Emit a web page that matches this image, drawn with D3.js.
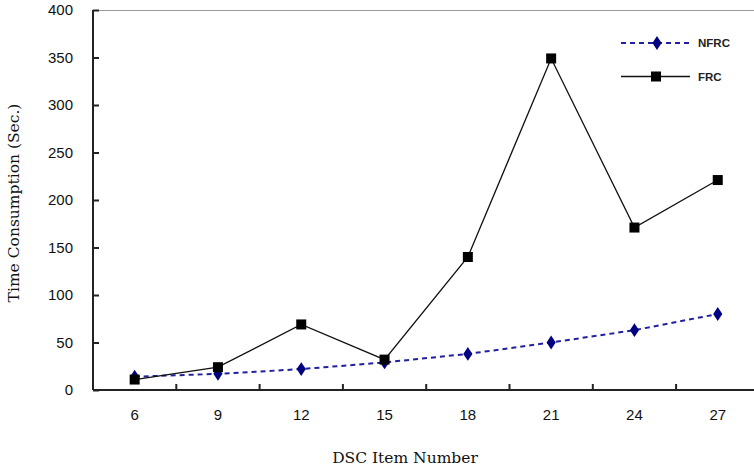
<!DOCTYPE html>
<html><head><meta charset="utf-8">
<script src="https://cdn.jsdelivr.net/npm/d3@7"></script>
<style>body{margin:0;background:#fff;} svg{display:block;}</style>
</head><body>
<svg id="c" width="754" height="469"></svg>
<script>
const categories = [6, 9, 12, 15, 18, 21, 24, 27];
const nfrc = [14, 17, 22, 29, 38, 50, 63, 80];
const frc = [11, 24, 69, 32, 140, 349, 171, 221];
const yTicks = [0, 50, 100, 150, 200, 250, 300, 350, 400];
const seriesNames = ["NFRC", "FRC"];

const svg = d3.select("#c");
const mLeft = 93, mTop = 10, mBottom = 390, mRight = 93 + 83.3 * 8;

const x = d3.scaleBand().domain(categories).range([mLeft, mRight]);
const y = d3.scaleLinear().domain([0, 400]).range([mBottom, mTop]);

// top border
svg.append("line").attr("x1", mLeft).attr("x2", mRight).attr("y1", mTop + 0.5).attr("y2", mTop + 0.5)
  .attr("stroke", "#999").attr("stroke-width", 1);

// y axis
const ya = svg.append("g").attr("transform", `translate(${mLeft},0)`)
  .call(d3.axisRight(y).tickValues(yTicks).tickSize(6).tickFormat(d3.format("d")));
ya.select(".domain").attr("stroke", "#222").attr("stroke-width", 2).attr("d", `M0,${mTop}V${mBottom}`);
ya.selectAll(".tick line").attr("stroke", "#222").attr("stroke-width", 2);
ya.selectAll(".tick text").attr("x", -20).attr("text-anchor", "end")
  .attr("font-family", "Liberation Sans, Arial, sans-serif").attr("font-size", 15).attr("fill", "#111");

// x axis
const xa = svg.append("g").attr("transform", `translate(0,${mBottom})`)
  .call(d3.axisTop(x).tickSize(0));
xa.select(".domain").attr("stroke", "#222").attr("stroke-width", 2).attr("d", `M${mLeft},0H${mRight}`);
xa.selectAll(".tick line").remove();
xa.selectAll(".tick text").attr("y", 30).attr("dy", "0")
  .attr("font-family", "Liberation Sans, Arial, sans-serif").attr("font-size", 15).attr("fill", "#111");
// boundary ticks between categories
const bounds = categories.slice(1).map(c => x(c));
svg.append("g").selectAll("line").data(bounds).join("line")
  .attr("x1", d => d).attr("x2", d => d).attr("y1", mBottom).attr("y2", mBottom - 6)
  .attr("stroke", "#222").attr("stroke-width", 2);

const cx = d => x(d) + x.bandwidth() / 2;
const line = d3.line().x(d => cx(d[0])).y(d => y(d[1]));

// NFRC
const nd = categories.map((c, i) => [c, nfrc[i]]);
svg.append("path").attr("d", line(nd)).attr("fill", "none").attr("stroke", "#2020a0")
  .attr("stroke-width", 2).attr("stroke-dasharray", "5,4");
const diamond = d3.symbol().type(d3.symbolDiamond).size(55);
svg.append("g").selectAll("path").data(nd).join("path")
  .attr("d", diamond).attr("transform", d => `translate(${cx(d[0])},${y(d[1])}) scale(1.15,1)`)
  .attr("fill", "#000080");

// FRC
const fd = categories.map((c, i) => [c, frc[i]]);
svg.append("path").attr("d", line(fd)).attr("fill", "none").attr("stroke", "#111").attr("stroke-width", 1.3);
svg.append("g").selectAll("rect").data(fd).join("rect")
  .attr("x", d => cx(d[0]) - 5).attr("y", d => y(d[1]) - 5).attr("width", 10).attr("height", 10)
  .attr("fill", "#000");

// legend
const lg = svg.append("g");
lg.append("line").attr("x1", 621).attr("x2", 690).attr("y1", 43).attr("y2", 43)
  .attr("stroke", "#2020a0").attr("stroke-width", 2).attr("stroke-dasharray", "5,4");
lg.append("path").attr("d", diamond).attr("transform", "translate(657,43) scale(1.15,1)").attr("fill", "#000080");
lg.append("text").attr("x", 698).attr("y", 47).text(seriesNames[0])
  .attr("font-family", "Liberation Sans, Arial, sans-serif").attr("font-size", 11.5).attr("font-weight", "bold").attr("fill", "#222");
lg.append("line").attr("x1", 621).attr("x2", 690).attr("y1", 76.5).attr("y2", 76.5)
  .attr("stroke", "#111").attr("stroke-width", 1.3);
lg.append("rect").attr("x", 651).attr("y", 71.5).attr("width", 10).attr("height", 10).attr("fill", "#000");
lg.append("text").attr("x", 698).attr("y", 81).text(seriesNames[1])
  .attr("font-family", "Liberation Sans, Arial, sans-serif").attr("font-size", 11.5).attr("font-weight", "bold").attr("fill", "#222");

// axis titles
svg.append("text").attr("transform", "translate(19,203) rotate(-90)").attr("text-anchor", "middle")
  .attr("font-family", "DejaVu Serif, serif").attr("font-size", 15.5).attr("fill", "#111")
  .text("Time Consumption (Sec.)");
svg.append("text").attr("x", 405).attr("y", 463).attr("text-anchor", "middle")
  .attr("font-family", "DejaVu Serif, serif").attr("font-size", 15.5).attr("fill", "#111")
  .text("DSC Item Number");
</script>
</body></html>
